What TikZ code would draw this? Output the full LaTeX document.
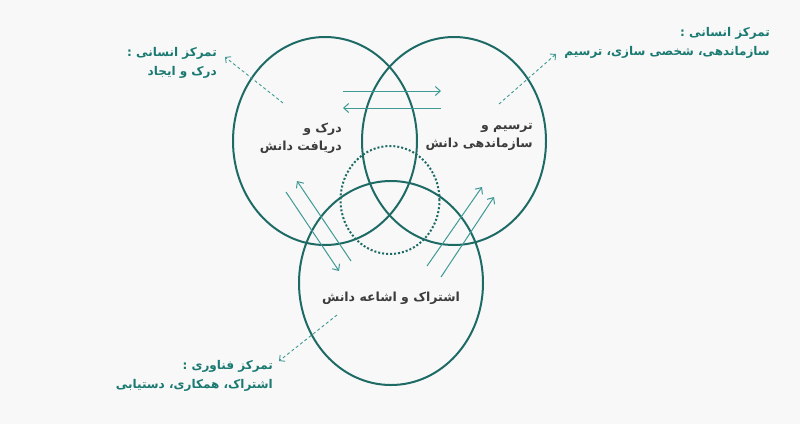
\documentclass[tikz,border=0pt]{standalone}
\usepackage{fontspec}
\usepackage{xcolor}
\usetikzlibrary{shapes.geometric,arrows.meta}
\TeXXeTstate=1
\newfontfamily\arabicfont[Script=Arabic]{DejaVu Sans}
\definecolor{ringteal}{HTML}{1E6B66}
\definecolor{arrowteal}{HTML}{3F9A94}
\definecolor{labelteal}{HTML}{1A7A72}
\definecolor{textgray}{HTML}{3C3C3C}
\definecolor{paper}{HTML}{F8F8F8}

\begin{document}
\begin{tikzpicture}[x=1pt, y=-1pt,
	ring/.style={draw=ringteal, line width=2pt, ellipse, inner sep=0pt, minimum width=184pt, minimum height=208pt},
	core/.style={draw=ringteal, line width=2pt, dotted, ellipse, inner sep=0pt, minimum width=99pt, minimum height=108pt},
	flow/.style={draw=arrowteal, line width=1pt, -{Straight Barb[length=5pt,width=9pt]}},
	focus/.style={draw=arrowteal, line width=0.9pt, dash pattern=on 3pt off 2.5pt, -{Straight Barb[length=4pt,width=8pt]}},
	area/.style={text=textgray, font=\arabicfont\bfseries\fontsize{12.5}{18}\selectfont, align=right, inner sep=0pt},
	note/.style={text=labelteal, font=\arabicfont\bfseries\fontsize{12}{19}\selectfont, align=right, inner sep=0pt}]
	\fill[paper] (0,0) rectangle (800,424);
	% circles
	\node[ring] (perceive) at (325,141) {};
	\node[ring] (organize) at (454,141) {};
	\node[ring, minimum height=204pt] (share) at (391,283) {};
	\node[core] (core) at (390,200) {};
	% circle texts
	\node[area, anchor=east] (perceivetext) at (342,138) {\beginR درک و\endR\\\beginR دریافت دانش\endR};
	\node[area, anchor=east] (organizetext) at (533,137) {\beginR ترسیم و\endR\\\beginR سازماندهی دانش\endR};
	\node[area] (sharetext) at (391,298) {\beginR اشتراک و اشاعه دانش\endR};
	% focus notes
	\node[note, anchor=east] (humanleft) at (217,63) {\beginR تمرکز انسانی :\endR\\\beginR درک و ایجاد\endR};
	\node[note, anchor=east] (humanright) at (770,43) {\beginR تمرکز انسانی :\endR\\\beginR سازماندهی، شخصی سازی، ترسیم\endR};
	\node[note, anchor=east] (technology) at (273,376) {\beginR تمرکز فناوری :\endR\\\beginR اشتراک، همکاری، دستیابی\endR};
	% flow arrows
	\coordinate (topA) at (343,91);
	\coordinate (topB) at (441,91);
	\coordinate (topC) at (441,108);
	\coordinate (topD) at (343,108);
	\coordinate (leftA) at (286,192);
	\coordinate (leftB) at (339,271);
	\coordinate (leftC) at (351,261);
	\coordinate (leftD) at (297,181);
	\coordinate (rightA) at (427,266);
	\coordinate (rightB) at (482,187);
	\coordinate (rightC) at (441,277);
	\coordinate (rightD) at (494,197);
	\draw[flow] (topA) -- (topB);
	\draw[flow] (topC) -- (topD);
	\draw[flow] (leftA) -- (leftB);
	\draw[flow] (leftC) -- (leftD);
	\draw[flow] (rightA) -- (rightB);
	\draw[flow] (rightC) -- (rightD);
	% dashed pointers
	\coordinate (fromleft) at (283,103);
	\coordinate (toleft) at (225,57);
	\coordinate (fromright) at (499,104);
	\coordinate (toright) at (556,54);
	\coordinate (fromshare) at (337,315);
	\coordinate (toshare) at (279,361);
	\draw[focus] (fromleft) -- (toleft);
	\draw[focus] (fromright) -- (toright);
	\draw[focus] (fromshare) -- (toshare);
\end{tikzpicture}
\end{document}
